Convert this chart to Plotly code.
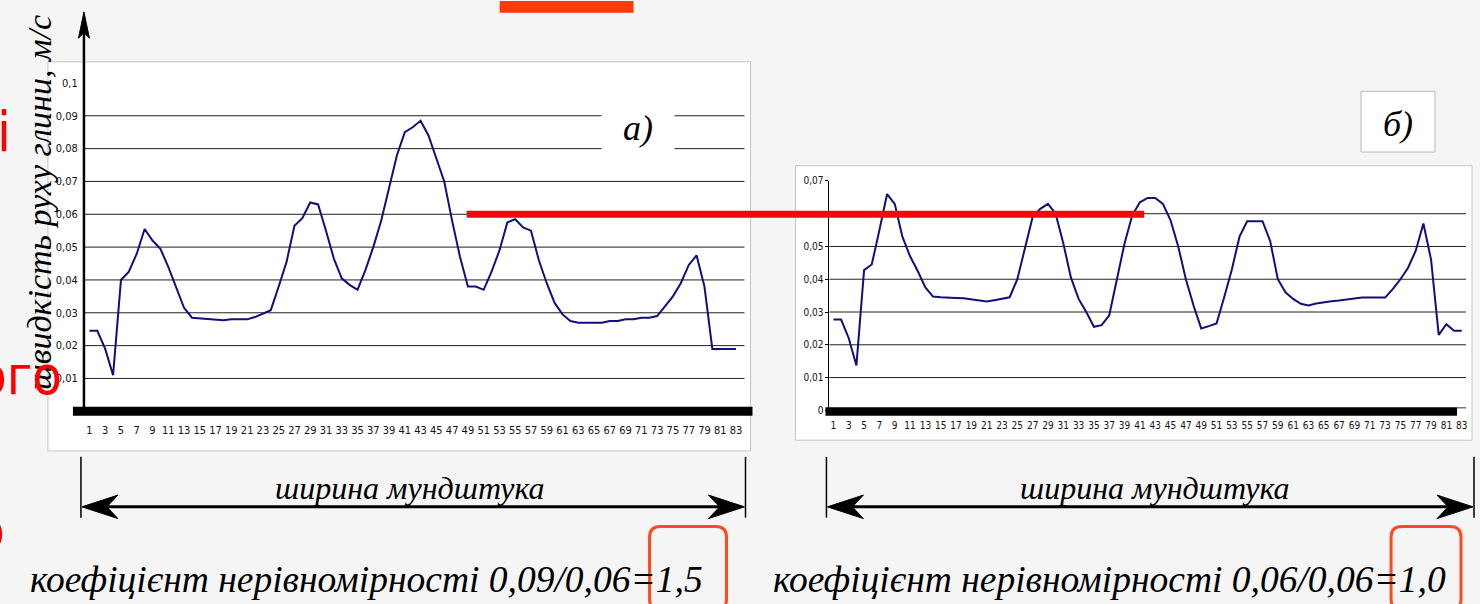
import plotly.graph_objects as go

W, H = 1480, 604

# ---------------- data ----------------
categories = list(range(1, 84))

speed_a = [
    0.0245, 0.0245, 0.019, 0.011, 0.040, 0.0425, 0.048, 0.0555, 0.052, 0.0495,
    0.044, 0.0375, 0.0315, 0.0285, 0.0283, 0.028, 0.0277, 0.0277, 0.028, 0.028,
    0.028, 0.0287, 0.0297, 0.0308, 0.038, 0.0455, 0.0565, 0.0588, 0.0636, 0.063,
    0.055, 0.0465, 0.0405, 0.0385, 0.037, 0.043, 0.050, 0.058, 0.068, 0.078,
    0.085, 0.0865, 0.0885, 0.084, 0.077, 0.070, 0.058, 0.047, 0.038, 0.038,
    0.037, 0.0425, 0.049, 0.0575, 0.0585, 0.056, 0.055, 0.046, 0.039, 0.033,
    0.0295, 0.0275, 0.027, 0.027, 0.027, 0.027, 0.0275, 0.0275, 0.028, 0.028,
    0.0285, 0.0285, 0.029, 0.032, 0.035, 0.039, 0.0445, 0.0475, 0.038, 0.019,
    0.019, 0.019, 0.019,
]

speed_b = [
    0.0277, 0.0277, 0.022, 0.0137, 0.0428, 0.0445, 0.055, 0.066, 0.063, 0.053,
    0.047, 0.0425, 0.0375, 0.0347, 0.0345, 0.0343, 0.0343, 0.0342, 0.0338, 0.0335,
    0.0332, 0.0336, 0.0341, 0.0345, 0.040, 0.050, 0.059, 0.0615, 0.063, 0.060,
    0.051, 0.0405, 0.034, 0.030, 0.0255, 0.026, 0.029, 0.040, 0.051, 0.0595,
    0.0635, 0.0648, 0.0648, 0.063, 0.058, 0.050, 0.040, 0.032, 0.025, 0.0257,
    0.0265, 0.0345, 0.043, 0.053, 0.0577, 0.0577, 0.0577, 0.0517, 0.040, 0.036,
    0.034, 0.0325, 0.032, 0.0326, 0.033, 0.0333, 0.0335, 0.0338, 0.0341, 0.0344,
    0.0344, 0.0344, 0.0344, 0.037, 0.040, 0.0435, 0.0487, 0.057, 0.046, 0.023,
    0.0263, 0.0243, 0.0243,
]

x_tick_vals = list(range(1, 84, 2))
y_tick_vals_a = [0.01, 0.02, 0.03, 0.04, 0.05, 0.06, 0.07, 0.08, 0.09, 0.1]
y_tick_text_a = ["0,01", "0,02", "0,03", "0,04", "0,05", "0,06", "0,07", "0,08", "0,09", "0,1"]
y_tick_vals_b = [0, 0.01, 0.02, 0.03, 0.04, 0.05, 0.07]
y_tick_text_b = ["0", "0,01", "0,02", "0,03", "0,04", "0,05", "0,07"]
grid_a = [0.01, 0.02, 0.03, 0.04, 0.05, 0.06, 0.07, 0.08, 0.09]
grid_b = [0.01, 0.02, 0.03, 0.04, 0.05, 0.06]
level_line = 0.06

y_title = "швидкість руху глини, м/с"
width_label = "ширина мундштука"
coef_a = "коефіцієнт нерівномірності 0,09/0,06=1,5"
coef_b = "коефіцієнт нерівномірності 0,06/0,06=1,0"

# ---------------- helpers ----------------
def X(p):
    return p / W

def Y(p):
    return 1 - p / H

def path(points):
    return "M " + " L ".join(f"{X(a):.5f},{Y(b):.5f}" for a, b in points) + " Z"

def rounded(x0, y0, x1, y1, r):
    pts = [
        f"M {X(x0 + r):.5f},{Y(y0):.5f}",
        f"L {X(x1 - r):.5f},{Y(y0):.5f}",
        f"Q {X(x1):.5f},{Y(y0):.5f} {X(x1):.5f},{Y(y0 + r):.5f}",
        f"L {X(x1):.5f},{Y(y1 - r):.5f}",
        f"Q {X(x1):.5f},{Y(y1):.5f} {X(x1 - r):.5f},{Y(y1):.5f}",
        f"L {X(x0 + r):.5f},{Y(y1):.5f}",
        f"Q {X(x0):.5f},{Y(y1):.5f} {X(x0):.5f},{Y(y1 - r):.5f}",
        f"L {X(x0):.5f},{Y(y0 + r):.5f}",
        f"Q {X(x0):.5f},{Y(y0):.5f} {X(x0 + r):.5f},{Y(y0):.5f} Z",
    ]
    return " ".join(pts)

SERIF = "Liberation Serif, Times New Roman, serif"
NARROW = "Liberation Sans Narrow, DejaVu Sans Condensed, Arial Narrow, sans-serif"
LINE = "#10107a"

fig = go.Figure()
fig.add_trace(go.Scatter(x=categories, y=speed_a, mode="lines",
                         line=dict(color=LINE, width=2), xaxis="x", yaxis="y",
                         hoverinfo="skip", showlegend=False))
fig.add_trace(go.Scatter(x=categories, y=speed_b, mode="lines",
                         line=dict(color=LINE, width=2), xaxis="x2", yaxis="y2",
                         hoverinfo="skip", showlegend=False))

# axis geometry (pixel positions of chart areas)
a_left, a_right, a_zero, a_top = 84, 745, 413.5, 78.5
a_c1, a_step = 89.5, 7.89
b_left, b_right, b_zero, b_top = 830, 1467, 412.5, 178.5
b_c1, b_step = 834, 7.667

tickfont_a = dict(family=NARROW, size=11, color="#111")
tickfont_b = dict(family=NARROW, size=10, color="#111")

fig.update_layout(
    width=W, height=H,
    margin=dict(l=0, r=0, t=0, b=0),
    paper_bgcolor="#f5f5f5",
    plot_bgcolor="rgba(0,0,0,0)",
    showlegend=False,
    xaxis=dict(domain=[X(a_left), X(a_right)],
               range=[1 + (a_left - a_c1) / a_step, 1 + (a_right - a_c1) / a_step],
               tickvals=x_tick_vals, tickfont=tickfont_a, showgrid=False,
               zeroline=False, showline=False, ticks="outside", ticklen=9,
               tickcolor="rgba(0,0,0,0)", anchor="y", fixedrange=True),
    yaxis=dict(domain=[Y(a_zero), Y(a_top)], range=[0, 0.1],
               tickvals=y_tick_vals_a, ticktext=y_tick_text_a, tickfont=tickfont_a,
               showgrid=False, zeroline=False, showline=False, ticks="outside",
               ticklen=3, tickcolor="rgba(0,0,0,0)", anchor="x", fixedrange=True),
    xaxis2=dict(domain=[X(b_left), X(b_right)],
                range=[1 + (b_left - b_c1) / b_step, 1 + (b_right - b_c1) / b_step],
                tickvals=x_tick_vals, tickfont=tickfont_b, showgrid=False,
                zeroline=False, showline=False, ticks="outside", ticklen=6,
                tickcolor="rgba(0,0,0,0)", anchor="y2", fixedrange=True),
    yaxis2=dict(domain=[Y(b_zero), Y(b_top)], range=[0, 0.07],
                tickvals=y_tick_vals_b, ticktext=y_tick_text_b, tickfont=tickfont_b,
                showgrid=False, zeroline=False, showline=True, linecolor="#000",
                linewidth=1, ticks="outside", ticklen=3, tickcolor="#000",
                anchor="x2", fixedrange=True),
)

shapes = []
# chart boxes (below everything)
shapes.append(dict(type="rect", xref="paper", yref="paper", layer="below",
                   x0=X(48), x1=X(751), y0=Y(454), y1=Y(57),
                   fillcolor="white", line=dict(color="#c4c4c4", width=1)))
shapes.append(dict(type="rect", xref="paper", yref="paper", layer="below",
                   x0=X(796), x1=X(1473), y0=Y(443), y1=Y(163),
                   fillcolor="white", line=dict(color="#c4c4c4", width=1)))
shapes.append(dict(type="rect", xref="paper", yref="paper", layer="below",
                   x0=X(1362), x1=X(1436), y0=Y(149), y1=Y(87),
                   fillcolor="white", line=dict(color="#b8b8b8", width=1)))
# grid lines
for g in grid_a:
    shapes.append(dict(type="line", xref="x domain", yref="y", layer="below",
                       x0=0, x1=1, y0=g, y1=g, line=dict(color="#222", width=1)))
for g in grid_b:
    shapes.append(dict(type="line", xref="x2 domain", yref="y2", layer="below",
                       x0=0, x1=1, y0=g, y1=g, line=dict(color="#222", width=1)))
# thick baseline bars
shapes.append(dict(type="rect", xref="paper", yref="paper", layer="above",
                   x0=X(73), x1=X(753), y0=Y(418), y1=Y(409),
                   fillcolor="black", line=dict(width=0)))
shapes.append(dict(type="rect", xref="paper", yref="paper", layer="above",
                   x0=X(826), x1=X(1458), y0=Y(418), y1=Y(409.5),
                   fillcolor="black", line=dict(width=0)))
shapes.append(dict(type="line", xref="paper", yref="paper", layer="above",
                   x0=X(1458), x1=X(1467), y0=Y(410), y1=Y(410),
                   line=dict(color="#333", width=1)))
# y axis of chart a with arrow
shapes.append(dict(type="line", xref="paper", yref="paper", layer="above",
                   x0=X(84), x1=X(84), y0=Y(413), y1=Y(20),
                   line=dict(color="black", width=2.5)))
shapes.append(dict(type="path", xref="paper", yref="paper", layer="above",
                   path=path([(84, 6), (89.5, 33), (84, 27), (78.5, 33)]),
                   fillcolor="black", line=dict(color="black", width=1)))
# red level line
shapes.append(dict(type="line", xref="paper", yref="y", layer="above",
                   x0=X(467), x1=X(1145), y0=level_line, y1=level_line,
                   line=dict(color="#ee0a0a", width=7)))
# red block at top
shapes.append(dict(type="rect", xref="paper", yref="paper", layer="above",
                   x0=X(500), x1=X(634), y0=Y(7), y1=Y(-5),
                   fillcolor="#ff3a0c", line=dict(width=0)))

# width dimension arrows
def dim_arrow(xl, xr):
    out = []
    for xv in (xl, xr):
        out.append(dict(type="line", xref="paper", yref="paper", layer="above",
                        x0=X(xv), x1=X(xv), y0=Y(460), y1=Y(522),
                        line=dict(color="black", width=1.5)))
    out.append(dict(type="line", xref="paper", yref="paper", layer="above",
                    x0=X(xl + 20), x1=X(xr - 20), y0=Y(511), y1=Y(511),
                    line=dict(color="black", width=3)))
    out.append(dict(type="path", xref="paper", yref="paper", layer="above",
                    path=path([(xl + 1, 511), (xl + 37, 499), (xl + 26, 511), (xl + 37, 523)]),
                    fillcolor="black", line=dict(color="black", width=1)))
    out.append(dict(type="path", xref="paper", yref="paper", layer="above",
                    path=path([(xr - 1, 511), (xr - 37, 499), (xr - 26, 511), (xr - 37, 523)]),
                    fillcolor="black", line=dict(color="black", width=1)))
    return out

shapes += dim_arrow(81, 746)
shapes += dim_arrow(827, 1475)

# rounded highlight frames
shapes.append(dict(type="path", xref="paper", yref="paper", layer="above",
                   path=rounded(650, 531, 727, 616, 11),
                   line=dict(color="#ff4a1f", width=3)))
shapes.append(dict(type="path", xref="paper", yref="paper", layer="above",
                   path=rounded(1392, 531, 1462, 616, 11),
                   line=dict(color="#ff4a1f", width=3)))

fig.update_layout(shapes=shapes)

ann = []
ann.append(dict(text="а)", x=X(638), y=Y(124), xref="paper", yref="paper",
                showarrow=False, xanchor="center", yanchor="middle",
                font=dict(family=SERIF, size=36, color="black", style="italic"),
                bgcolor="white", width=72, height=62, borderpad=0))
ann.append(dict(text="б)", x=X(1399), y=Y(120), xref="paper", yref="paper",
                showarrow=False, xanchor="center", yanchor="middle",
                font=dict(family=SERIF, size=36, color="black", style="italic")))
ann.append(dict(text=y_title, x=X(39), y=Y(200), xref="paper", yref="paper",
                showarrow=False, xanchor="center", yanchor="middle", textangle=-90,
                font=dict(family=SERIF, size=34, color="black", style="italic")))
for cx in (410, 1156):
    ann.append(dict(text=width_label, x=X(cx), y=Y(492), xref="paper", yref="paper",
                    showarrow=False, xanchor="center", yanchor="middle",
                    font=dict(family=SERIF, size=32, color="black", style="italic")))
ann.append(dict(text=coef_a, x=X(367), y=Y(585), xref="paper", yref="paper",
                showarrow=False, xanchor="center", yanchor="middle",
                font=dict(family=SERIF, size=37.5, color="black", style="italic")))
ann.append(dict(text=coef_b, x=X(1110), y=Y(585), xref="paper", yref="paper",
                showarrow=False, xanchor="center", yanchor="middle",
                font=dict(family=SERIF, size=37.5, color="black", style="italic")))
# red cut-off slide text fragments on the left edge
ann.append(dict(text="і", x=X(13), y=Y(128), xref="paper", yref="paper",
                showarrow=False, xanchor="right", yanchor="middle",
                font=dict(family=NARROW, size=56, color="#ff0000")))
ann.append(dict(text="ого", x=X(64), y=Y(377), xref="paper", yref="paper",
                showarrow=False, xanchor="right", yanchor="middle",
                font=dict(family=NARROW, size=54, color="#ff0000")))
ann.append(dict(text="о", x=X(7), y=Y(534), xref="paper", yref="paper",
                showarrow=False, xanchor="right", yanchor="middle",
                font=dict(family=NARROW, size=56, color="#ff0000")))
fig.update_layout(annotations=ann)

fig.write_html(
    "out.html",
    config={"displayModeBar": False},
    post_script="document.body.style.margin='0';document.body.style.overflow='hidden';",
)
